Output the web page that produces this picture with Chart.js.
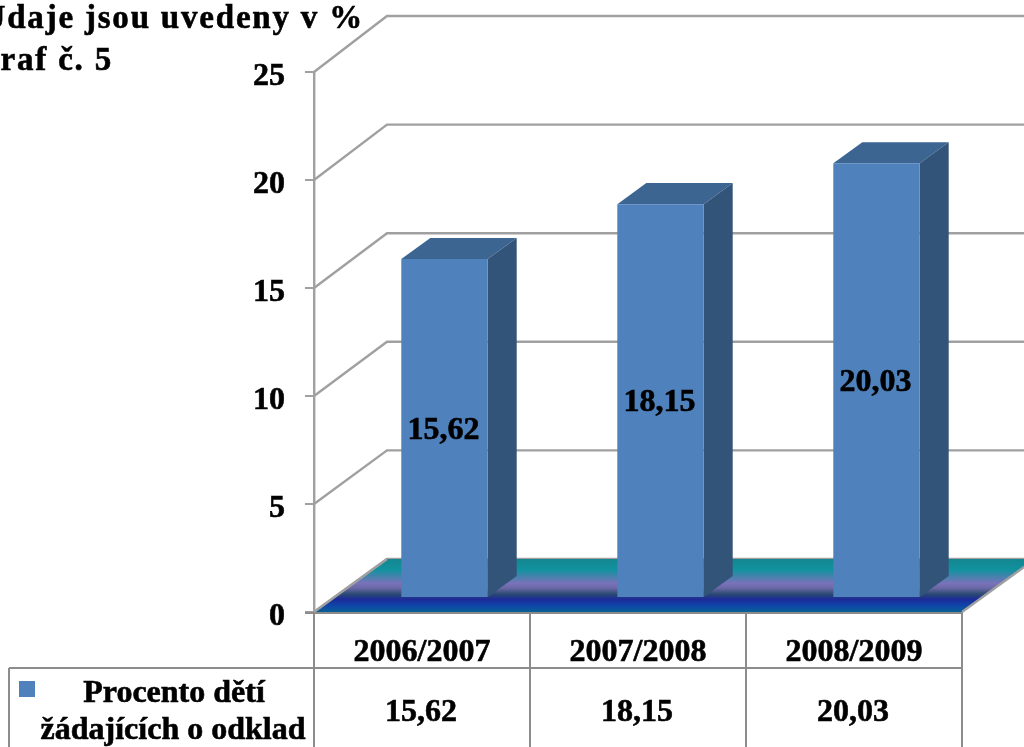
<!DOCTYPE html>
<html><head><meta charset="utf-8">
<style>html,body{margin:0;padding:0;background:#fff;overflow:hidden}#w{position:relative;width:1024px;height:747px}canvas{display:block}</style>
<script src="https://cdn.jsdelivr.net/npm/chart.js@4"></script>
</head><body><div id="w"><canvas id="c" width="1024" height="747"></canvas></div>
<script>
const categories = ['2006/2007', '2007/2008', '2008/2009'];
const values = [15.62, 18.15, 20.03];
const seriesName = ['Procento dětí', 'žádajících o odklad'];
const titleLines = ['Údaje jsou uvedeny v %', 'Graf č. 5'];
const yTicks = [0, 5, 10, 15, 20, 25];

const FONT = 'bold 32px "Liberation Serif"';
const TICKFONT = {family: 'Liberation Serif', size: 32, weight: 'bold'};
const GRID = '#a0a0a0', TABLE = '#8c8c8c', FRONT = '#4f81bd', TOP = '#3d6592', SIDE = '#325478';
const DEPTH = {x: 73, y: -53, perUnit: 0.12};  // back wall sits slightly stretched
const BAR = {x: 22.5, y: -14, dx: 29, dy: -21, stretch: 1.0046}; // bar placement in the floor and bar depth
const fmt = v => v.toFixed(2).replace('.', ',');

function heavyText(ctx, s, x, y) {
  ctx.lineWidth = 0.6; ctx.strokeStyle = '#000';
  ctx.strokeText(s, x, y); ctx.fillText(s, x, y);
}

const scene = {
  id: 'scene',
  beforeDatasetsDraw(chart) {
    const {ctx, chartArea: a, scales: {y}} = chart;
    ctx.save();
    // walls' gridlines
    ctx.strokeStyle = GRID; ctx.lineWidth = 2.4;
    yTicks.forEach(t => {
      const p = Math.round(y.getPixelForValue(t));
      const back = p + DEPTH.y - t * DEPTH.perUnit;
      ctx.beginPath();
      ctx.moveTo(a.left, p);
      ctx.lineTo(a.left + DEPTH.x, back);
      ctx.lineTo(1030, back);
      ctx.stroke();
    });
    // floor
    const b = Math.round(y.getPixelForValue(0));
    const g = ctx.createLinearGradient(0, b + DEPTH.y, 0, b);
    g.addColorStop(0, '#14868f'); g.addColorStop(0.2, '#10929f');
    g.addColorStop(0.46, '#7a72ba'); g.addColorStop(0.55, '#6a68a6');
    g.addColorStop(0.66, '#2b4a72'); g.addColorStop(0.76, '#1c2a98');
    g.addColorStop(0.88, '#0f45a8'); g.addColorStop(0.95, '#0c55a0'); g.addColorStop(1, '#0a6090');
    ctx.fillStyle = g;
    ctx.beginPath();
    ctx.moveTo(a.left, b); ctx.lineTo(a.right, b);
    ctx.lineTo(a.right + DEPTH.x, b + DEPTH.y); ctx.lineTo(a.left + DEPTH.x, b + DEPTH.y);
    ctx.closePath(); ctx.fill();
    ctx.strokeStyle = GRID; ctx.lineWidth = 2.4;
    ctx.beginPath();
    ctx.moveTo(a.left, b); ctx.lineTo(a.left + DEPTH.x, b + DEPTH.y);
    ctx.moveTo(a.right, b); ctx.lineTo(a.right + DEPTH.x, b + DEPTH.y);
    ctx.stroke();
    ctx.restore();
  },
  beforeDatasetDraw(chart, args) {
    const {ctx, chartArea: a} = chart;
    ctx.save();
    ctx.translate(BAR.x, BAR.y - a.bottom * (BAR.stretch - 1));
    ctx.scale(1, BAR.stretch);
    chart.getDatasetMeta(args.index).data.forEach(el => {
      const {x, y, base, width} = el.getProps(['x', 'y', 'base', 'width'], true);
      const l = x - width / 2, r = x + width / 2;
      ctx.fillStyle = TOP;
      ctx.beginPath();
      ctx.moveTo(l, y); ctx.lineTo(l + BAR.dx, y + BAR.dy); ctx.lineTo(r + BAR.dx, y + BAR.dy); ctx.lineTo(r, y);
      ctx.closePath(); ctx.fill();
      ctx.fillStyle = SIDE;
      ctx.beginPath();
      ctx.moveTo(r, y); ctx.lineTo(r + BAR.dx, y + BAR.dy); ctx.lineTo(r + BAR.dx, base + BAR.dy); ctx.lineTo(r, base);
      ctx.closePath(); ctx.fill();
    });
  },
  afterDatasetDraw(chart) { chart.ctx.restore(); },
  afterDatasetsDraw(chart) {
    const {ctx, chartArea: a, scales: {x: xs}} = chart;
    ctx.save();
    ctx.font = FONT; ctx.fillStyle = '#000'; ctx.textAlign = 'center'; ctx.textBaseline = 'alphabetic';
    // value labels in the bars
    chart.getDatasetMeta(0).data.forEach((el, i) => {
      const {x, y, base} = el.getProps(['x', 'y', 'base'], true);
      heavyText(ctx, fmt(values[i]), x + BAR.x - 1, (y + base) / 2 - 4);
    });
    // data table
    ctx.strokeStyle = TABLE; ctx.lineWidth = 2;
    ctx.beginPath();
    ctx.moveTo(a.left - 9, a.bottom + 1); ctx.lineTo(a.right, a.bottom + 1);
    ctx.moveTo(9, 668); ctx.lineTo(a.right, 668);
    ctx.moveTo(9, 668); ctx.lineTo(9, 747);
    const step = (a.right - a.left) / categories.length;
    for (let i = 0; i <= categories.length; i++) {
      const px = Math.round(a.left + step * i);
      ctx.moveTo(px, a.bottom); ctx.lineTo(px, 747);
    }
    ctx.stroke();
    values.forEach((v, i) => heavyText(ctx, fmt(v), xs.getPixelForValue(i) - 1, 721));
    heavyText(ctx, seriesName[0], 174, 702);
    heavyText(ctx, seriesName[1], 173, 739);
    ctx.fillStyle = FRONT; ctx.fillRect(19, 681, 16, 16);
    // title, clipped by the left page edge as in the source
    ctx.fillStyle = '#000'; ctx.textAlign = 'right';
    ctx.font = 'bold 33px "Liberation Serif"';
    ctx.letterSpacing = '1.8px';
    heavyText(ctx, titleLines[0], 364, 28);
    heavyText(ctx, titleLines[1], 113, 70);
    ctx.restore();
  }
};

new Chart(document.getElementById('c'), {
  type: 'bar',
  data: {labels: categories, datasets: [{
    label: seriesName.join(' '), data: values, backgroundColor: FRONT,
    barPercentage: 0.4, categoryPercentage: 1, clip: false
  }]},
  options: {
    responsive: false, animation: false, events: [],
    layout: {padding: {top: 72, right: 62, left: 0, bottom: 0}},
    plugins: {legend: {display: false}, title: {display: false}, tooltip: {enabled: false}},
    scales: {
      x: {
        afterFit(s) { s.height = 135; },
        grid: {display: false, drawTicks: false},
        border: {display: false},
        ticks: {font: TICKFONT, color: '#000', padding: 22, maxRotation: 0, textStrokeColor: '#000', textStrokeWidth: 0.6}
      },
      y: {
        min: 0, max: 25,
        afterFit(s) { s.width = 314; },
        afterBuildTicks(s) { s.ticks = yTicks.map(value => ({value})); },
        grid: {drawOnChartArea: false, drawTicks: true, tickLength: 9, color: GRID, lineWidth: 2},
        border: {color: GRID, width: 2.4},
        ticks: {
          font: {...TICKFONT, lineHeight: '9px'}, color: '#000', padding: 20,
          textStrokeColor: '#000', textStrokeWidth: 0.6,
          callback: v => ['', String(v)]
        }
      }
    }
  },
  plugins: [scene]
});
</script></body></html>
